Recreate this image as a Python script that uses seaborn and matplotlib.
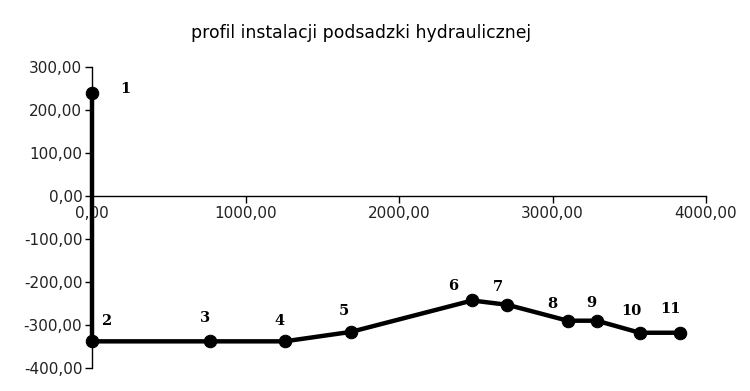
import matplotlib
matplotlib.use("Agg")
import matplotlib.pyplot as plt
import seaborn as sns
import pandas as pd
from matplotlib.ticker import FuncFormatter, MultipleLocator

# data
point_labels = ["1", "2", "3", "4", "5", "6", "7", "8", "9", "10", "11"]
distance = [0, 0, 767, 1255, 1687, 2477, 2706, 3099, 3289, 3568, 3831]
elevation = [240, -338, -338, -338, -316, -243, -253, -290, -290, -318, -318]

# label offsets in pixels (dx, dy) from the point to the label centre
label_offsets = [(33, 4), (14, 20), (-5, 23), (-5, 20), (-7, 21), (-19, 14),
                 (-9, 18), (-15, 17), (-6, 18), (-8, 22), (-10, 24)]

df = pd.DataFrame({"x": distance, "y": elevation, "label": point_labels})

sns.set_theme(style="white")
plt.rcParams["font.family"] = ["DejaVu Sans"]

fig = plt.figure(figsize=(7.5, 3.91), dpi=100)
ax = fig.add_axes([92 / 750, 23 / 391, (706 - 92) / 750, (368 - 67) / 391])

sns.lineplot(data=df, x="x", y="y", sort=False, estimator=None, ax=ax,
             color="black", linewidth=3.2, marker="o", markersize=9,
             markeredgecolor="black", markerfacecolor="black", clip_on=False,
             zorder=5)

ax.set_xlim(0, 4000)
ax.set_ylim(-400, 300)
ax.xaxis.set_major_locator(MultipleLocator(1000))
ax.yaxis.set_major_locator(MultipleLocator(100))
fmt = FuncFormatter(lambda v, p: f"{v:.2f}".replace(".", ","))
ax.xaxis.set_major_formatter(fmt)
ax.yaxis.set_major_formatter(fmt)

ax.spines["top"].set_visible(False)
ax.spines["right"].set_visible(False)
ax.spines["bottom"].set_position(("data", 0))
for s in ("left", "bottom"):
    ax.spines[s].set_color("black")
    ax.spines[s].set_linewidth(1.0)

ax.tick_params(axis="both", which="major", length=5, width=1, color="black",
               labelsize=11, labelcolor="#222222", direction="out", pad=2)
ax.tick_params(axis="x", bottom=True)
ax.tick_params(axis="y", left=True)
ax.set_xlabel("")
ax.set_ylabel("")
ax.grid(False)

for (x, y, lab), (dx, dy) in zip(zip(distance, elevation, point_labels), label_offsets):
    ax.annotate(lab, (x, y), xytext=(dx * 0.72, dy * 0.72), textcoords="offset points",
                ha="center", va="center", fontsize=10.5, family="DejaVu Serif",
                fontweight="bold", color="black", annotation_clip=False)

fig.text((192 + 531) / 2 / 750, 1 - 33 / 391, "profil instalacji podsadzki hydraulicznej",
         ha="center", va="center", fontsize=12.4, color="black")

fig.savefig("out.png", dpi=100)
